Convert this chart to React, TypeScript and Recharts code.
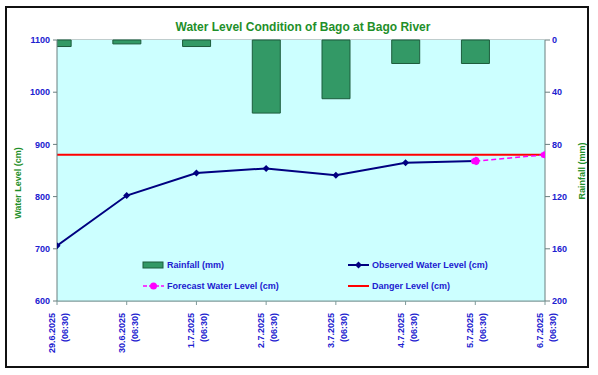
import { ComposedChart, Bar, Line, XAxis, YAxis, CartesianGrid, ReferenceLine } from 'recharts'

const dates = ['29.6.2025', '30.6.2025', '1.7.2025', '2.7.2025', '3.7.2025', '4.7.2025', '5.7.2025', '6.7.2025']
const timeLabel = '(06:30)'
const rainfall = [5, 3, 5, 56, 45, 18, 18, null]
const observed = [706, 802, 845, 854, 841, 865, 868, null]
const forecast = [null, null, null, null, null, null, 868, 880]
const dangerLevel = 880
const levelTicks = [600, 700, 800, 900, 1000, 1100]
const rainTicks = [0, 40, 80, 120, 160, 200]

const data = dates.map((d, i) => ({ idx: i, date: d, rain: rainfall[i], obs: observed[i], fc: forecast[i] }))

const FONT = '"Liberation Sans", Arial, sans-serif'
const BLUE = '#2020d0'
const GREEN = '#1f8f2a'

function DateTick({ x, y, payload }: any) {
  return (
    <g transform={`translate(${x},${y})`}>
      <text transform="rotate(-90)" textAnchor="end" fontSize={9} fontWeight="bold" fill={BLUE} fontFamily={FONT}>
        <tspan x={-6} y={-2}>{dates[payload.value]}</tspan>
        <tspan x={-6} y={11}>{timeLabel}</tspan>
      </text>
    </g>
  )
}

function Diamond({ cx, cy, index }: any) {
  if (cx == null || cy == null) return <g key={index} />
  return <path key={index} d={`M${cx},${cy - 3.5}L${cx + 3.5},${cy}L${cx},${cy + 3.5}L${cx - 3.5},${cy}Z`} fill="#000080" />
}

function LegendItem({ icon, text }: { icon: any; text: string }) {
  return (
    <div style={{ display: 'flex', alignItems: 'center', height: 21 }}>
      <svg width={24} height={10}>{icon}</svg>
      <span style={{ marginLeft: 2, color: BLUE, fontWeight: 'bold', fontSize: 9, fontFamily: FONT }}>{text}</span>
    </div>
  )
}

export default function App() {
  return (
    <div style={{ position: 'absolute', left: 0, top: 0, width: 598, height: 375, background: '#fff', fontFamily: FONT }}>
      <div style={{ position: 'absolute', left: 5, top: 6, width: 580, height: 358, border: '2px solid #111' }} />
      <div style={{ position: 'absolute', left: 0, top: 20, width: 606, textAlign: 'center', color: GREEN, fontWeight: 'bold', fontSize: 12 }}>
        Water Level Condition of Bago at Bago River
      </div>
      <div style={{ position: 'absolute', left: 18, top: 183, transform: 'translate(-50%,-50%) rotate(-90deg)', whiteSpace: 'nowrap', color: GREEN, fontWeight: 'bold', fontSize: 9 }}>
        Water Level (cm)
      </div>
      <div style={{ position: 'absolute', left: 582, top: 171, transform: 'translate(-50%,-50%) rotate(-90deg)', whiteSpace: 'nowrap', color: GREEN, fontWeight: 'bold', fontSize: 9 }}>
        Rainfall (mm)
      </div>
      <div style={{ position: 'absolute', left: 0, top: 0 }}>
        <ComposedChart width={598} height={375} data={data} margin={{ top: 40, right: 8, bottom: 8, left: 7 }}>
          <rect x={57} y={40} width={488} height={261} fill="#ccffff" />
          <CartesianGrid vertical={false} stroke="#7f9a9a" strokeWidth={1} yAxisId="level" />
          <XAxis
            dataKey="idx"
            type="number"
            domain={[0, 7]}
            ticks={[0, 1, 2, 3, 4, 5, 6, 7]}
            allowDataOverflow
            height={66}
            tick={<DateTick />}
            tickSize={4}
            stroke="#7f9a9a"
            interval={0}
          />
          <YAxis
            yAxisId="level"
            domain={[600, 1100]}
            ticks={levelTicks}
            width={50}
            tickSize={4}
            tickMargin={3}
            stroke="#6a7f7f"
            tick={{ fill: BLUE, fontSize: 9, fontWeight: 'bold', fontFamily: FONT }}
          />
          <YAxis
            yAxisId="rain"
            orientation="right"
            reversed
            domain={[0, 200]}
            ticks={rainTicks}
            width={45}
            tickSize={5}
            tickMargin={2}
            stroke="#6a7f7f"
            tick={{ fill: BLUE, fontSize: 9, fontWeight: 'bold', fontFamily: FONT, textAnchor: 'start' }}
          />
          <Bar yAxisId="rain" dataKey="rain" barSize={28} fill="#339966" stroke="#1d5c3c" strokeWidth={1} isAnimationActive={false} />
          <ReferenceLine yAxisId="level" y={dangerLevel} stroke="#ff0000" strokeWidth={2} />
          <Line yAxisId="level" dataKey="obs" stroke="#000080" strokeWidth={2} dot={<Diamond />} connectNulls={false} isAnimationActive={false} />
          <Line
            yAxisId="level"
            dataKey="fc"
            stroke="#ff00ff"
            strokeWidth={1.5}
            strokeDasharray="5 3"
            dot={{ r: 3.5, fill: '#ff00ff', stroke: '#ff00ff' }}
            isAnimationActive={false}
          />
        </ComposedChart>
      </div>
      <div style={{ position: 'absolute', left: 141, top: 254, display: 'grid', gridTemplateColumns: '205px 200px' }}>
        <LegendItem icon={<rect x={2} y={2} width={20} height={6} fill="#339966" stroke="#1d5c3c" />} text="Rainfall (mm)" />
        <LegendItem
          icon={
            <g>
              <line x1={2} y1={5} x2={23} y2={5} stroke="#000080" strokeWidth={2} />
              <path d="M12.5,1.5L16,5L12.5,8.5L9,5Z" fill="#000080" />
            </g>
          }
          text="Observed Water Level (cm)"
        />
        <LegendItem
          icon={
            <g>
              <line x1={2} y1={5} x2={23} y2={5} stroke="#ff00ff" strokeWidth={1.5} strokeDasharray="4 2" />
              <circle cx={12.5} cy={5} r={3.5} fill="#ff00ff" />
            </g>
          }
          text="Forecast Water Level (cm)"
        />
        <LegendItem icon={<line x1={2} y1={5} x2={23} y2={5} stroke="#ff0000" strokeWidth={2} />} text="Danger Level (cm)" />
      </div>
    </div>
  )
}
